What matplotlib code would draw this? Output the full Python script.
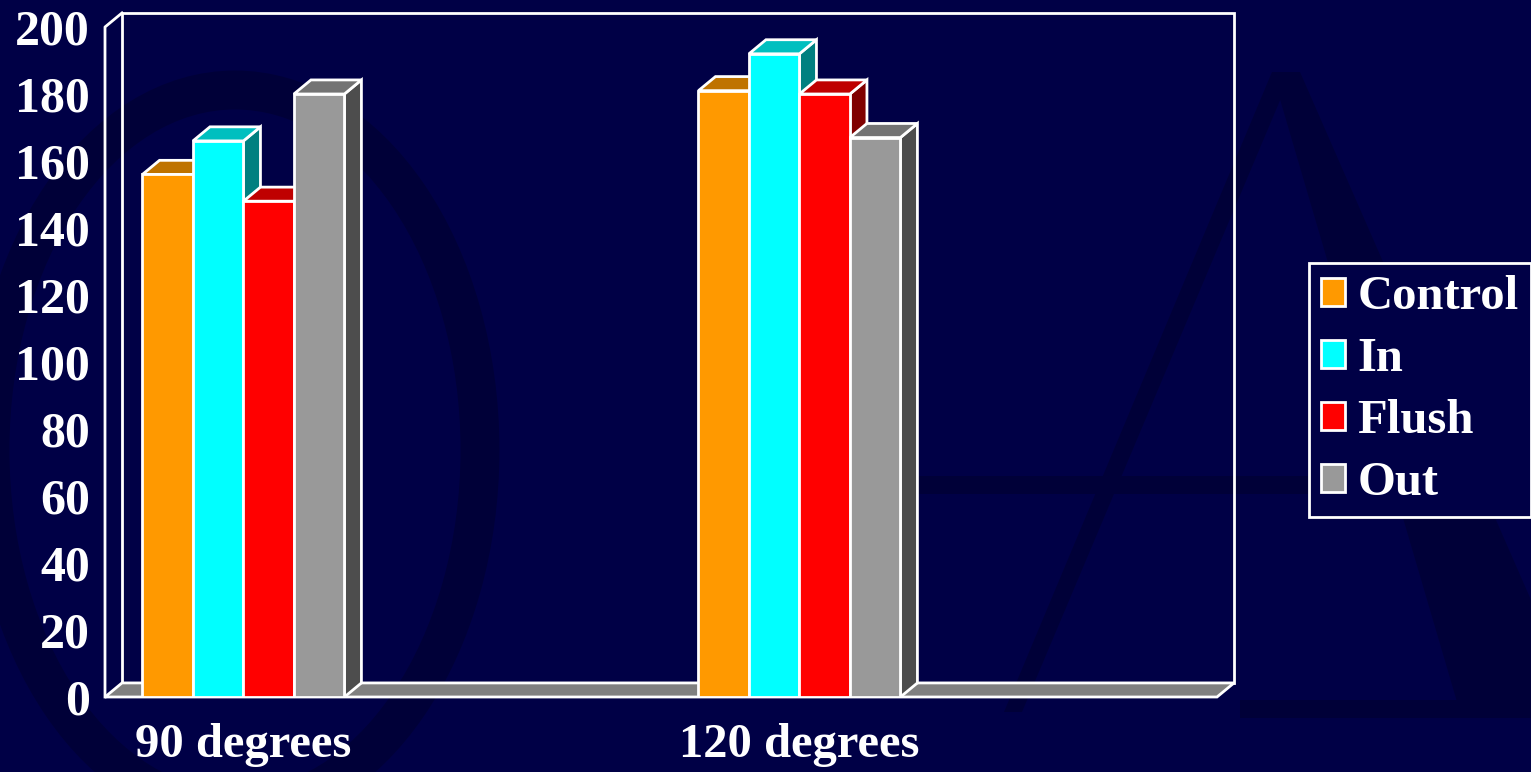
import matplotlib.pyplot as plt
from matplotlib.patches import Polygon, Rectangle, Patch, Ellipse
from matplotlib.font_manager import FontProperties

categories = ['90 degrees', '120 degrees']
series = ['Control', 'In', 'Flush', 'Out']
control = [156, 181]
inside = [166, 192]
flush = [148, 180]
out = [180, 167]
values = [control, inside, flush, out]

front_cols = ['#FF9900', '#00FFFF', '#FF0000', '#999999']
top_cols = ['#BF7300', '#00BFBF', '#BF0000', '#737373']
side_cols = ['#805000', '#008080', '#800000', '#4D4D4D']
bg = '#000046'
wm = '#000038'

font = FontProperties(family='Liberation Serif', weight='bold', size=36)
font_cat = FontProperties(family='Liberation Serif', weight='bold', size=35)
font_leg = FontProperties(family='Liberation Serif', weight='bold', size=35)

fig = plt.figure(figsize=(15.31, 7.72), dpi=100, facecolor=bg)

# faint watermark behind the chart (pixel coords)
bgax = fig.add_axes([0, 0, 1, 1], zorder=-1)
bgax.set_xlim(0, 1531)
bgax.set_ylim(772, 0)
bgax.axis('off')
bgax.add_patch(Ellipse((235, 450), 490, 720, fill=False, ec=wm, lw=28))
bgax.add_patch(Polygon([(1272, 72), (1292, 72), (1022, 712), (1004, 712)], fc=wm, ec='none'))
bgax.add_patch(Polygon([(1272, 72), (1300, 72), (1531, 600), (1531, 712), (1460, 712)], fc=wm, ec='none'))
bgax.add_patch(Rectangle((915, 476), 420, 18, fc=wm, ec='none'))
bgax.add_patch(Rectangle((1240, 700), 291, 18, fc=wm, ec='none'))

ax = fig.add_axes([105 / 1531, 75 / 772, 1112 / 1531, 670 / 772])
x0, x1 = -0.249, 1.751
ax.set_xlim(x0, x1)
ax.set_ylim(0, 200)
ax.patch.set_visible(False)
for s in ax.spines.values():
    s.set_visible(False)

# depth of the fake 3d box, in data units
dx = 0.0306
dy = 4.2
lw = 2

# back wall + left wall edges
ax.add_patch(Rectangle((x0 + dx, dy), x1 - x0, 200, fill=False, ec='white', lw=lw, clip_on=False, zorder=1))
ax.plot([x0, x0, x0 + dx], [0, 200, 200 + dy], color='white', lw=lw, clip_on=False, zorder=1)
# floor
ax.add_patch(Polygon([(x0, 0), (x1, 0), (x1 + dx, dy), (x0 + dx, dy)],
                     fc='#808080', ec='white', lw=lw, clip_on=False, zorder=2))

w = 0.0908
z = 3
for i in range(len(categories)):
    for j in range(len(series)):
        v = values[j][i]
        left = i + (j - 2) * w
        right = left + w
        side = Polygon([(right, 0), (right + dx, dy), (right + dx, v + dy), (right, v)],
                       fc=side_cols[j], ec='white', lw=lw, zorder=z)
        top = Polygon([(left, v), (left + dx, v + dy), (right + dx, v + dy), (right, v)],
                      fc=top_cols[j], ec='white', lw=lw, zorder=z)
        front = Rectangle((left, 0), w, v, fc=front_cols[j], ec='white', lw=lw, zorder=z)
        ax.add_patch(side)
        ax.add_patch(top)
        ax.add_patch(front)
        z += 1

ax.set_yticks(range(0, 201, 20))
ax.set_xticks(range(len(categories)))
ax.set_xticklabels(categories)
ax.tick_params(length=0, colors='white')
ax.tick_params(axis='y', pad=11)
ax.tick_params(axis='x', pad=19)
for lab in ax.get_yticklabels():
    lab.set_fontproperties(font)
for lab in ax.get_xticklabels():
    lab.set_fontproperties(font_cat)

handles = [Patch(fc=c, ec='white', lw=lw) for c in front_cols]
leg = ax.legend(handles, series, loc='upper left',
                bbox_to_anchor=(1309 / 1531, 1 - 263 / 772), bbox_transform=fig.transFigure,
                prop=font_leg, labelcolor='white', facecolor=bg, edgecolor='white',
                framealpha=1, fancybox=False, handlelength=0.5, handleheight=0.5,
                handletextpad=0.25, labelspacing=0.37, borderpad=0.25, borderaxespad=0)
leg.get_frame().set_linewidth(lw)

fig.savefig('out.png', dpi=100, facecolor=bg)
